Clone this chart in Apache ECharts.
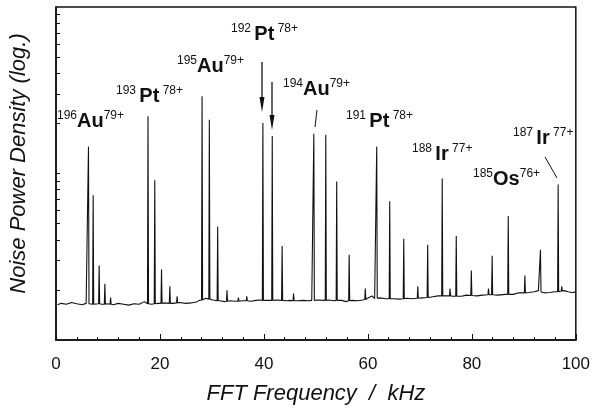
<!DOCTYPE html>
<html>
<head>
<meta charset="utf-8">
<script src="https://cdn.jsdelivr.net/npm/echarts@6/dist/echarts.min.js"></script>
<style>html,body{margin:0;padding:0;background:#fff}#c{width:593px;height:410px}</style>
</head>
<body>
<div id="c"></div>
<script>
// x tick labels (kHz)
const xTicks = [0, 20, 40, 60, 80, 100];
// y tick values on the log axis (arbitrary units, no labels)
const yTickValues = [2, 3, 4, 5, 6, 7, 8, 9, 10, 20, 30, 40, 50, 60, 70, 80, 90];

// noise floor: [frequency kHz, power density]
const baseline = [
  [0.3,1.63],[1,1.66],[2,1.64],[3,1.68],[4,1.65],[5,1.63],[5.8,1.66],[7.6,1.66],[8.8,1.64],[9.9,1.65],
  [11,1.63],[12,1.66],[13,1.64],[14,1.62],[15,1.65],[16,1.64],[17,1.70],[18.4,1.64],[19.6,1.66],[20.8,1.67],
  [22.4,1.66],[23.8,1.68],[25,1.66],[26,1.67],[27,1.69],[27.6,1.73],[28.8,1.78],[30.2,1.74],[31.6,1.72],[32.4,1.70],
  [33.5,1.72],[34.5,1.71],[35.8,1.72],[37.5,1.71],[38.5,1.73],[39.3,1.74],[40.6,1.73],[42.4,1.74],[44.5,1.72],[45,1.73],
  [46.5,1.72],[47.5,1.73],[48.5,1.72],[49.2,1.73],[50.5,1.74],[51.4,1.73],[52.5,1.74],[53.5,1.72],[55,1.73],[55.8,1.70],
  [57,1.73],[58,1.72],[59,1.74],[60,1.79],[60.8,1.84],[61.3,1.77],[62.3,1.79],[63.5,1.77],[65,1.77],[66,1.76],
  [67.5,1.78],[68.5,1.77],[70.5,1.79],[72.5,1.82],[73.5,1.84],[75,1.84],[76.3,1.83],[78,1.83],[79,1.86],[81,1.84],
  [82,1.86],[83.5,1.87],[85,1.86],[86.5,1.88],[88,1.88],[89,1.92],[91,1.93],[92,1.95],[92.8,1.98],[94,1.92],
  [95,1.93],[96,1.95],[97.8,1.98],[98.5,1.95],[99.2,1.93],[99.9,1.94]
];

// peaks: [frequency kHz, peak power density, floor at the foot]
const peaks = [
  [6.25,14.5,1.65],[7.15,7.4,1.64],[8.3,2.8,1.65],[9.4,2.18,1.64],[10.5,1.80,1.64],
  [17.7,22.1,1.65],[19.0,9.1,1.65],[20.3,2.65,1.66],[21.9,2.10,1.66],[23.3,1.83,1.67],
  [28.1,29.1,1.74],[29.5,21.0,1.76],[31.1,4.8,1.72],[32.9,1.99,1.71],[35.1,1.80,1.71],[36.7,1.83,1.72],
  [39.8,20.1,1.73],[41.6,16.8,1.73],[43.5,3.67,1.73],[45.7,1.90,1.72],
  [49.6,17.3,1.73],[51.9,17.1,1.73],[54.0,8.96,1.73],[56.4,3.25,1.72],[59.5,2.04,1.75],
  [61.7,14.5,1.78],[64.2,6.81,1.77],[66.9,4.05,1.77],[69.6,2.10,1.78],[71.5,3.73,1.80],
  [74.3,9.33,1.84],[75.8,2.04,1.84],[77.0,4.22,1.83],[79.9,2.61,1.85],[83.2,2.04,1.87],[83.9,3.21,1.87],
  [87.0,5.55,1.88],[90.2,2.44,1.92],[93.2,3.48,1.94],[96.6,8.6,1.95],[97.3,2.1,1.97]
];

// annotation labels: [mass number, element, charge]
const labelIso = ['196', '193 ', '195', '192 ', '194', '191 ', '188 ', '185', '187 '];
const labelEl  = ['Au', 'Pt', 'Au', 'Pt', 'Au', 'Pt', 'Ir', 'Os', 'Ir'];
const labelChg = ['79+', ' 78+', '79+', ' 78+', '79+', ' 78+', ' 77+', '76+', ' 77+'];
const labelPos = [[57,110],[116,85],[177,55],[231,23],[283,78],[346,110],[412,143],[473,168],[513,127]];

const pts = baseline.slice();
peaks.forEach(p => { pts.push([p[0]-0.1, p[2]]); pts.push([p[0], p[1]]); pts.push([p[0]+0.1, p[2]]); });
pts.sort((a, b) => a[0] - b[0]);

const FONT = '"Liberation Sans", Arial, Helvetica, sans-serif';
const graphics = [];
labelIso.forEach((iso, i) => {
  graphics.push({
    type: 'text', left: labelPos[i][0], top: labelPos[i][1], silent: true,
    style: {
      text: '{s|' + iso + '}{b|' + labelEl[i] + '}{s|' + labelChg[i] + '}',
      fontFamily: FONT,
      rich: {
        s: { fontSize: 12, lineHeight: 14, verticalAlign: 'top', fill: '#111', fontFamily: FONT },
        b: { fontSize: 20, fontWeight: 'bold', lineHeight: 22, fill: '#111', fontFamily: FONT }
      }
    }
  });
});
// arrows and pointer lines
const stroke = { stroke: '#111', lineWidth: 1.3 };
graphics.push({ type: 'line', shape: { x1: 262, y1: 62, x2: 262, y2: 100 }, style: stroke, silent: true });
graphics.push({ type: 'polygon', shape: { points: [[259.5, 97], [264.5, 97], [262, 112]] }, style: { fill: '#111' }, silent: true });
graphics.push({ type: 'line', shape: { x1: 272, y1: 82, x2: 272, y2: 118 }, style: stroke, silent: true });
graphics.push({ type: 'polygon', shape: { points: [[269.5, 115], [274.5, 115], [272, 130]] }, style: { fill: '#111' }, silent: true });
graphics.push({ type: 'line', shape: { x1: 317, y1: 110, x2: 315, y2: 127 }, style: { stroke: '#111', lineWidth: 1 }, silent: true });
graphics.push({ type: 'line', shape: { x1: 545, y1: 157, x2: 557, y2: 178 }, style: { stroke: '#111', lineWidth: 1 }, silent: true });

const chart = echarts.init(document.getElementById('c'));
chart.setOption({
  animation: false,
  backgroundColor: '#fff',
  grid: { left: 55, right: 16, top: 7, bottom: 67, show: true, borderColor: '#111', borderWidth: 1.5, backgroundColor: 'transparent' },
  xAxis: {
    type: 'value', min: 0, max: 100, interval: 20,
    name: 'FFT Frequency  /  kHz', nameLocation: 'middle', nameGap: 43,
    nameTextStyle: { fontSize: 22, fontStyle: 'italic', color: '#111', fontFamily: FONT },
    axisLine: { lineStyle: { color: '#111', width: 1.5 } },
    axisTick: { inside: true, length: 6, lineStyle: { color: '#111', width: 1 } },
    minorTick: { show: true, splitNumber: 5, length: 3, lineStyle: { color: '#111', width: 1 } },
    splitLine: { show: false },
    axisLabel: { fontSize: 17, color: '#111', margin: 16, fontFamily: FONT,
      formatter: v => xTicks.indexOf(v) >= 0 ? String(v) : '' }
  },
  yAxis: {
    type: 'log', logBase: 10, min: 1, max: 100,
    name: 'Noise Power Density (log.)', nameLocation: 'middle', nameGap: 26,
    nameTextStyle: { fontSize: 22, fontStyle: 'italic', color: '#111', fontFamily: FONT, padding: [0, 0, 0, 20] },
    axisLine: { show: true, lineStyle: { color: '#111', width: 1.5 } },
    axisTick: { show: true, inside: true, length: 4, customValues: yTickValues, lineStyle: { color: '#111', width: 1 } },
    axisLabel: { show: false },
    splitLine: { show: false }
  },
  series: [{
    type: 'line', data: pts, showSymbol: false, symbol: 'none',
    lineStyle: { color: '#111', width: 1.1 }, sampling: null, z: 3
  }],
  graphic: graphics
});
</script>
</body>
</html>
